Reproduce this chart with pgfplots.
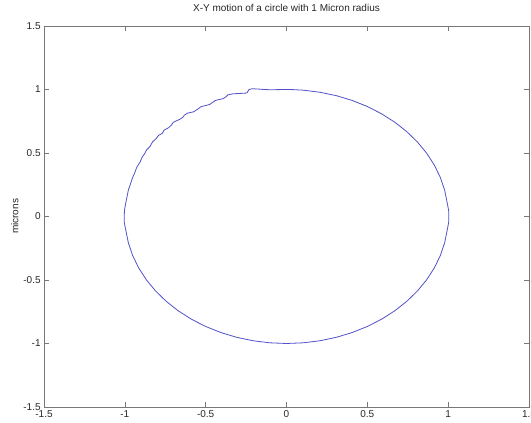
\documentclass[border=0pt]{standalone}
\usepackage{fontspec}
\setmainfont{Liberation Sans}
\usepackage{pgfplots}
\pgfplotsset{compat=1.18}
\definecolor{lineblue}{RGB}{80,80,200}
\definecolor{axgray}{RGB}{120,120,120}
\begin{document}
\begin{tikzpicture}
\useasboundingbox (-33pt,-12pt) rectangle (365.25pt,305.25pt);
\begin{axis}[
  scale only axis,
  width=363.75pt, height=285.75pt,
  xmin=-1.5, xmax=1.5, ymin=-1.5, ymax=1.5,
  xtick={-1.5,-1,-0.5,0,0.5,1,1.5},
  ytick={-1.5,-1,-0.5,0,0.5,1,1.5},
  tick align=inside,
  major tick length=3.5pt,
  axis line style={axgray, line width=0.6pt},
  every tick/.style={axgray, line width=0.5pt},
  tick label style={font=\fontsize{7.5}{9}\selectfont, text=black!85},
  /pgf/number format/assume math mode=true,
  xticklabel style={yshift=1pt},
  yticklabel style={xshift=1pt},
  title={X-Y motion of a circle with 1 Micron radius},
  title style={at={(axis description cs:0.5,1)}, anchor=base, yshift=5pt, inner sep=0pt, font=\fontsize{7.5}{9}\selectfont, text=black!85},
  ylabel={microns},
  ylabel style={at={(axis description cs:-0.06,0.5)}, anchor=center, font=\fontsize{7.5}{9}\selectfont, text=black!85},
]
\addplot[lineblue, line width=0.6pt] coordinates {
(1.004,0.0) (1.004,0.04) (0.9945,0.1045) (0.9781,0.2079) (0.9511,0.3090)
(0.9135,0.4067) (0.8660,0.5000) (0.8090,0.5878) (0.7431,0.6691)
(0.6691,0.7431) (0.5878,0.8090) (0.5000,0.8660) (0.4067,0.9135)
(0.3090,0.9511) (0.2079,0.9781) (0.1045,0.9945) (0.04,0.999) (0.0,1.000)
(-0.05,0.999) (-0.10,0.998) (-0.14,1.000) (-0.17,1.003)
(-0.21,1.006) (-0.232,1.000) (-0.245,0.972) (-0.33,0.966) (-0.362,0.958)
(-0.375,0.942) (-0.392,0.928) (-0.44,0.914) (-0.458,0.898) (-0.475,0.882)
(-0.53,0.864) (-0.548,0.846) (-0.575,0.824) (-0.612,0.814) (-0.630,0.800)
(-0.642,0.780) (-0.662,0.764) (-0.70,0.742) (-0.712,0.720) (-0.728,0.700)
(-0.757,0.680) (-0.768,0.655) (-0.792,0.638) (-0.805,0.615) (-0.828,0.588)
(-0.845,0.550) (-0.867,0.522) (-0.877,0.495) (-0.893,0.467) (-0.905,0.430)
(-0.926,0.388) (-0.94,0.340)
(-0.9511,0.3090) (-0.9781,0.2079) (-0.9945,0.1045) (-1.002,0.05) (-1.004,0.0)
(-1.003,-0.05) (-0.9945,-0.1045) (-0.9781,-0.2079) (-0.9511,-0.3090)
(-0.9135,-0.4067) (-0.8660,-0.5000) (-0.8090,-0.5878) (-0.7431,-0.6691)
(-0.6691,-0.7431) (-0.5878,-0.8090) (-0.5000,-0.8660) (-0.4067,-0.9135)
(-0.3090,-0.9511) (-0.2079,-0.9781) (-0.1045,-0.9945) (0.0,-1.000)
(0.1045,-0.9945) (0.2079,-0.9781) (0.3090,-0.9511) (0.4067,-0.9135)
(0.5000,-0.8660) (0.5878,-0.8090) (0.6691,-0.7431) (0.7431,-0.6691)
(0.8090,-0.5878) (0.8660,-0.5000) (0.9135,-0.4067) (0.9511,-0.3090)
(0.9781,-0.2079) (0.9945,-0.1045) (1.004,-0.04) (1.004,0.0)
};
\end{axis}
\end{tikzpicture}
\end{document}
